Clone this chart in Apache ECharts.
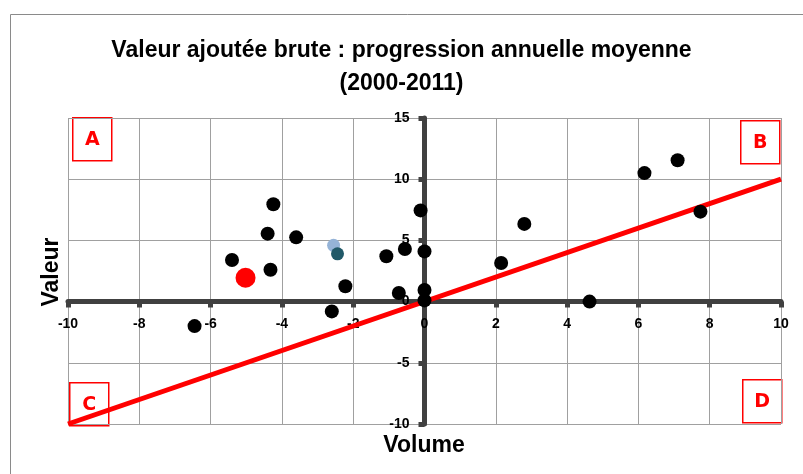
<!DOCTYPE html>
<html>
<head>
<meta charset="utf-8">
<script src="https://cdn.jsdelivr.net/npm/echarts@6/dist/echarts.min.js"></script>
<style>
  html, body { margin: 0; padding: 0; background: #fff; }
  #chart { width: 803px; height: 474px; }
</style>
</head>
<body>
<div id="chart"></div>
<script>
// countries (volume %, valeur %)
const volume = [-6.45, -5.4, -4.32, -4.4, -4.24, -3.6, -2.22, -2.6, -1.07, -0.55, -0.72, -0.11, 0, 0, 0, 2.15, 2.8, 4.63, 6.17, 7.1, 7.74];
const valeur = [-2.0, 3.4, 2.6, 5.55, 7.95, 5.25, 1.25, -0.8, 3.7, 4.3, 0.7, 7.45, 4.1, 0.95, 0.1, 3.15, 6.35, 0.0, 10.5, 11.55, 7.35];

// highlighted points
const redPoint = [-5.02, 1.95];
const lightBluePoint = [-2.55, 4.6];
const tealPoint = [-2.44, 3.9];

// diagonal reference line (valeur = volume)
const lineX = [-10, 10];
const lineY = [-10, 10];

const xTicks = { min: -10, max: 10, step: 2 };
const yTicks = { min: -10, max: 15, step: 5 };

const quadrantLabels = ['A', 'B', 'C', 'D'];

var chart = echarts.init(document.getElementById('chart'));

var scatterData = volume.map(function (v, i) { return [v, valeur[i]]; });
var lineData = lineX.map(function (v, i) { return [v, lineY[i]]; });

var labelFont = 'Liberation Sans';
var axisColor = '#404040';

// plot area
var W = 803, H = 474;
var G = { left: 68, right: 22, top: 118, bottom: 50 };
var gw = W - G.left - G.right, gh = H - G.top - G.bottom;
// axes cross at 0: shift them inward from the grid edges
var xOffset = -gh * (0 - yTicks.min) / (yTicks.max - yTicks.min);
var yOffset = -gw * (0 - xTicks.min) / (xTicks.max - xTicks.min);

function box(letter, x, y) {
  return {
    type: 'group',
    left: x, top: y, z: 100,
    children: [
      { type: 'rect', shape: { x: 0, y: 0, width: 39, height: 43 },
        style: { fill: '#fff', stroke: '#ff0000', lineWidth: 1.5 } },
      { type: 'text', x: 19.5, y: 22,
        style: { text: letter, fill: '#ff0000', font: 'bold 19px "DejaVu Sans"',
                 align: 'center', verticalAlign: 'middle' } }
    ]
  };
}

var option = {
  animation: false,
  backgroundColor: '#fff',
  title: {
    text: 'Valeur ajoutée brute : progression annuelle moyenne\n(2000-2011)',
    left: 'center',
    top: 29,
    textStyle: { fontFamily: labelFont, fontWeight: 'bold', fontSize: 23, lineHeight: 33, color: '#000' }
  },
  grid: { left: G.left, right: G.right, top: G.top, bottom: G.bottom, containLabel: false, outerBoundsMode: 'none' },
  xAxis: {
    type: 'value',
    position: 'bottom',
    offset: xOffset,
    min: xTicks.min, max: xTicks.max, interval: xTicks.step,
    axisLine: { onZero: false, lineStyle: { color: axisColor, width: 5 } },
    axisTick: { show: true, length: 6, inside: false, lineStyle: { color: axisColor, width: 5 } },
    axisLabel: { margin: 16, fontFamily: labelFont, fontWeight: 'bold', fontSize: 14, color: '#000', showMinLabel: true, showMaxLabel: true },
    splitLine: { show: true, lineStyle: { color: '#a0a0a0', width: 1 } }
  },
  yAxis: {
    type: 'value',
    position: 'left',
    offset: yOffset,
    min: yTicks.min, max: yTicks.max, interval: yTicks.step,
    axisLine: { onZero: false, lineStyle: { color: axisColor, width: 5 } },
    axisTick: { show: true, length: 6, lineStyle: { color: axisColor, width: 5 } },
    axisLabel: { margin: 15, fontFamily: labelFont, fontWeight: 'bold', fontSize: 14, color: '#000', showMinLabel: true, showMaxLabel: true },
    splitLine: { show: true, lineStyle: { color: '#a0a0a0', width: 1 } }
  },
  graphic: [
    { type: 'rect', z: -1, shape: { x: 10.5, y: 14.5, width: 800, height: 470 },
      style: { fill: 'none', stroke: '#8a8a8a', lineWidth: 1 } },
    { type: 'text', x: 424, y: 446, z: 10,
      style: { text: 'Volume', font: 'bold 23px "Liberation Sans"', fill: '#000', align: 'center', verticalAlign: 'middle' } },
    { type: 'text', x: 52, y: 272, rotation: Math.PI / 2, z: 10,
      style: { text: 'Valeur', font: 'bold 23px "Liberation Sans"', fill: '#000', align: 'center', verticalAlign: 'middle' } },
    box(quadrantLabels[0], 72, 117),
    box(quadrantLabels[1], 740, 120),
    box(quadrantLabels[2], 69, 382),
    box(quadrantLabels[3], 742, 379)
  ],
  series: [
    {
      type: 'line',
      data: lineData,
      symbol: 'none',
      z: 3,
      lineStyle: { color: '#ff0000', width: 5 }
    },
    {
      type: 'scatter',
      data: scatterData,
      symbolSize: 14,
      z: 5,
      itemStyle: { color: '#000', opacity: 1 }
    },
    {
      type: 'scatter',
      data: [lightBluePoint],
      symbolSize: 13,
      z: 5,
      itemStyle: { color: '#95b3d7', opacity: 1 }
    },
    {
      type: 'scatter',
      data: [tealPoint],
      symbolSize: 13,
      z: 6,
      itemStyle: { color: '#215968', opacity: 1 }
    },
    {
      type: 'scatter',
      data: [redPoint],
      symbolSize: 20,
      z: 6,
      itemStyle: { color: '#ff0000', opacity: 1 }
    }
  ]
};

chart.setOption(option);
</script>
</body>
</html>
